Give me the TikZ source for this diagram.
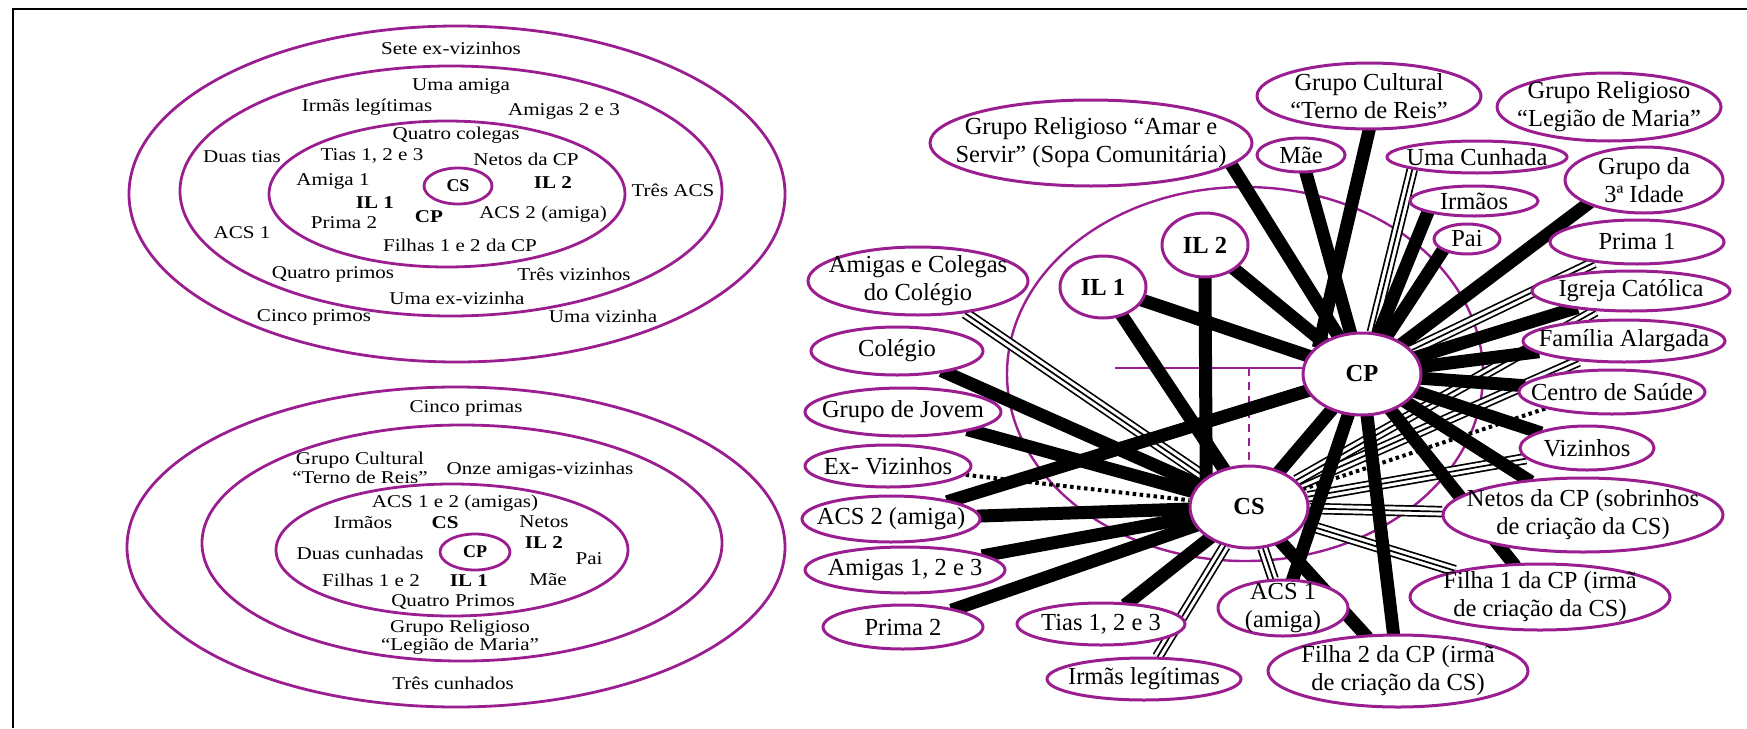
\documentclass[tikz,border=0pt]{standalone}
\usepackage{fontspec}
\setmainfont{Liberation Serif}
\usetikzlibrary{shapes.geometric}
\definecolor{pur}{RGB}{155,30,145}
\pgfdeclarelayer{rings}
\pgfdeclarelayer{links}
\pgfsetlayers{rings,links,main}
\newcommand\enode[5]{\node[nd, minimum width=#3, minimum height=#4, label={[rt]center:{#5}}] (#1) at (#2) {};}
\newcommand\tri[2]{\draw[trio] (#1) -- (#2); \draw[line width=1.7pt] (#1) -- (#2);}
\begin{document}
\begin{tikzpicture}[x=1pt,y=-1pt,
  lf/.style={font=\fontsize{18}{18.5}\selectfont},
  lfb/.style={font=\fontsize{18}{18.5}\selectfont\bfseries},
  lt/.style={lf, align=center, inner sep=0, xscale=1.17},
  ltb/.style={lfb, align=center, inner sep=0, xscale=1.17},
  rt/.style={font=\fontsize{24.5}{28}\selectfont, align=center, inner sep=0},
  rtb/.style={rt, font=\fontsize{24.5}{28}\selectfont\bfseries},
  ring/.style={draw=pur, line width=2.8pt},
  nd/.style={ellipse, draw=pur, line width=3pt, fill=white, inner sep=0},
  tk/.style={line width=13pt, shorten <=-4pt, shorten >=-4pt},
  trio/.style={line width=1.7pt, double=white, double distance=8pt},
  dotl/.style={line width=4pt, dash pattern=on 3.5pt off 3.5pt}]
\useasboundingbox (0,0) rectangle (1747,728);
\draw[line width=2pt] (13,728) -- (13,9) -- (1747,9);

% ---------- top-left rings ----------
\draw[ring] (457,194) ellipse [x radius=328, y radius=168];
\draw[ring] (451,191) ellipse [x radius=271, y radius=125];
\draw[ring] (447,194) ellipse [x radius=178, y radius=73];
\node[ellipse, draw=pur, line width=2.8pt, minimum width=68, minimum height=36, inner sep=0, lfb] (tcs) at (458,186) {CS};
\node[lt] (t1) at (451,48) {Sete ex-vizinhos};
\node[lt] (t2) at (461,86) {Uma amiga};
\node[lt] (t3) at (367,107) {Irmãs legítimas};
\node[lt] (t4) at (564,111) {Amigas 2 e 3};
\node[lt] (t5) at (456,135) {Quatro colegas};
\node[lt] (t6) at (242,157) {Duas tias};
\node[lt] (t7) at (372,156) {Tias 1, 2 e 3};
\node[lt] (t8) at (526,159) {Netos da CP};
\node[lt] (t9) at (333,181) {Amiga 1};
\node[ltb] (t10) at (553,183) {IL 2};
\node[lt] (t11) at (673,190) {Três ACS};
\node[ltb] (t12) at (375,203) {IL 1};
\node[lt] (t13) at (543,214) {ACS 2 (amiga)};
\node[ltb] (t14) at (429,217) {CP};
\node[lt] (t15) at (344,223) {Prima 2};
\node[lt] (t16) at (242,233) {ACS 1};
\node[lt] (t17) at (460,245) {Filhas 1 e 2 da CP};
\node[lt] (t18) at (333,274) {Quatro primos};
\node[lt] (t19) at (574,274) {Três vizinhos};
\node[lt] (t20) at (457,298) {Uma ex-vizinha};
\node[lt] (t21) at (314,317) {Cinco primos};
\node[lt] (t22) at (603,316) {Uma vizinha};

% ---------- bottom-left rings ----------
\draw[ring] (456,547) ellipse [x radius=329, y radius=160];
\draw[ring] (462,543) ellipse [x radius=260, y radius=118];
\draw[ring] (452,550) ellipse [x radius=176, y radius=66];
\node[ellipse, draw=pur, line width=2.8pt, minimum width=70, minimum height=36, inner sep=0, lfb] (bcp) at (475,552) {CP};
\node[lt] (b1) at (466,408) {Cinco primas};
\node[lt] (b2) at (360,468) {Grupo Cultural\\“Terno de Reis”};
\node[lt] (b3) at (540,470) {Onze amigas-vizinhas};
\node[lt] (b4) at (455,503) {ACS 1 e 2 (amigas)};
\node[lt] (b5) at (363,523) {Irmãos};
\node[ltb] (b6) at (445,523) {CS};
\node[lt] (b7) at (544,522) {Netos};
\node[ltb] (b8) at (544,543) {IL 2};
\node[lt] (b9) at (360,553) {Duas cunhadas};
\node[lt] (b10) at (589,559) {Pai};
\node[lt] (b11) at (371,580) {Filhas 1 e 2};
\node[ltb] (b12) at (469,581) {IL 1};
\node[lt] (b13) at (548,580) {Mãe};
\node[lt] (b14) at (453,602) {Quatro Primos};
\node[lt] (b15) at (460,637) {Grupo Religioso\\“Legião de Maria”};
\node[lt] (b16) at (453,683) {Três cunhados};

% ---------- network nodes ----------
\node[nd, minimum width=118, minimum height=82, rtb] (CP) at (1362,374) {CP};
\node[nd, minimum width=118, minimum height=82, rtb] (CS) at (1249,507) {CS};
\node[nd, minimum width=86, minimum height=62, rtb] (IL1) at (1103,287) {IL 1};
\node[nd, minimum width=86, minimum height=64, rtb] (IL2) at (1205,245) {IL 2};
\enode{AmarServir}{1091,143}{322}{86}{Grupo Religioso “Amar e\\Servir” (Sopa Comunitária)}
\enode{AmigasColegas}{918,281}{220}{68}{Amigas e Colegas\\do Colégio}
\enode{Colegio}{897,351}{172}{48}{Colégio}
\enode{Jovem}{903,412}{196}{48}{Grupo de Jovem}
\enode{ExViz}{888,466}{166}{42}{Ex- Vizinhos}
\enode{ACS2}{891,519}{178}{46}{ACS 2 (amiga)}
\enode{Amigas}{905,570}{200}{46}{Amigas 1, 2 e 3}
\enode{Prima2}{903,627}{160}{44}{Prima 2}
\enode{Tias}{1101,624}{168}{42}{Tias 1, 2 e 3}
\enode{IrmasLeg}{1144,679}{194}{42}{Irmãs legítimas}
\enode{ACS1}{1283,608}{130}{56}{ACS 1\\(amiga)}
\enode{Filha2}{1398,671}{260}{72}{Filha 2 da CP (irmã\\de criação da CS)}
\enode{Filha1}{1540,597}{260}{66}{Filha 1 da CP (irmã\\de criação da CS)}
\enode{Netos}{1583,515}{280}{74}{Netos da CP (sobrinhos\\de criação da CS)}
\enode{Vizinhos}{1587,448}{134}{44}{Vizinhos}
\enode{Centro}{1612,392}{186}{44}{Centro de Saúde}
\enode{FamAlarg}{1624,341}{202}{42}{Família Alargada}
\enode{Igreja}{1631,291}{198}{40}{Igreja Católica}
\enode{Prima1}{1637,242}{174}{44}{Prima 1}
\enode{Idade}{1644,180}{158}{66}{Grupo da\\3ª Idade}
\enode{Legiao}{1609,107}{224}{68}{Grupo Religioso\\“Legião de Maria”}
\enode{Pai}{1467,239}{66}{30}{Pai}
\enode{Irmaos}{1474,201}{128}{30}{Irmãos}
\enode{Cunhada}{1477,157}{180}{32}{Uma Cunhada}
\enode{Mae}{1301,155}{88}{34}{Mãe}
\enode{Cultural}{1369,96}{224}{66}{Grupo Cultural\\“Terno de Reis”}

\coordinate (hl) at (1115,368);
\coordinate (dv) at (1249,368);

\begin{pgfonlayer}{rings}
\draw[ring, line width=2.4pt] (1245,374) ellipse [x radius=238, y radius=187];
\draw[pur, line width=2pt] (hl) -- (hl -| CP.west);
\draw[pur, line width=2pt, dash pattern=on 8pt off 6pt] (dv) -- (CS.north);
\end{pgfonlayer}

\begin{pgfonlayer}{links}
\tri{AmigasColegas}{CS}
\tri{IrmasLeg}{CS}
\tri{ACS1}{CS}
\tri{Filha1}{CS}
\tri{Netos}{CS}
\tri{Vizinhos}{CS}
\tri{FamAlarg}{CS}
\tri{Igreja}{CS}
\tri{Cunhada.south west}{CP}
\tri{Prima1}{CP}
\draw[tk] (AmarServir.-9) -- (CP);
\draw[tk] (Irmaos.south west) -- (CP);
\draw[tk] (Pai.south west) -- (CP);
\draw[tk] (Idade.south west) -- (CP);
\draw[tk] (Cultural.south) -- (CP.north west);
\foreach \n in {Mae,Igreja,FamAlarg,Centro,Vizinhos,Netos,Filha1,Filha2,ACS1,IL1,ACS2,CS}
  \draw[tk] (CP) -- (\n);
\draw[tk] (IL2) -- (CP);
\draw[tk] (IL2.south) -- (CS.north west);
\foreach \n in {IL1,Colegio,Jovem,ACS2,Amigas,Prima2,Tias,Filha2}
  \draw[tk] (CS) -- (\n);
\draw[dotl] (ExViz) -- (CS);
\draw[dotl] (Centro.south west) -- (CS);
\end{pgfonlayer}
\end{tikzpicture}
\end{document}
